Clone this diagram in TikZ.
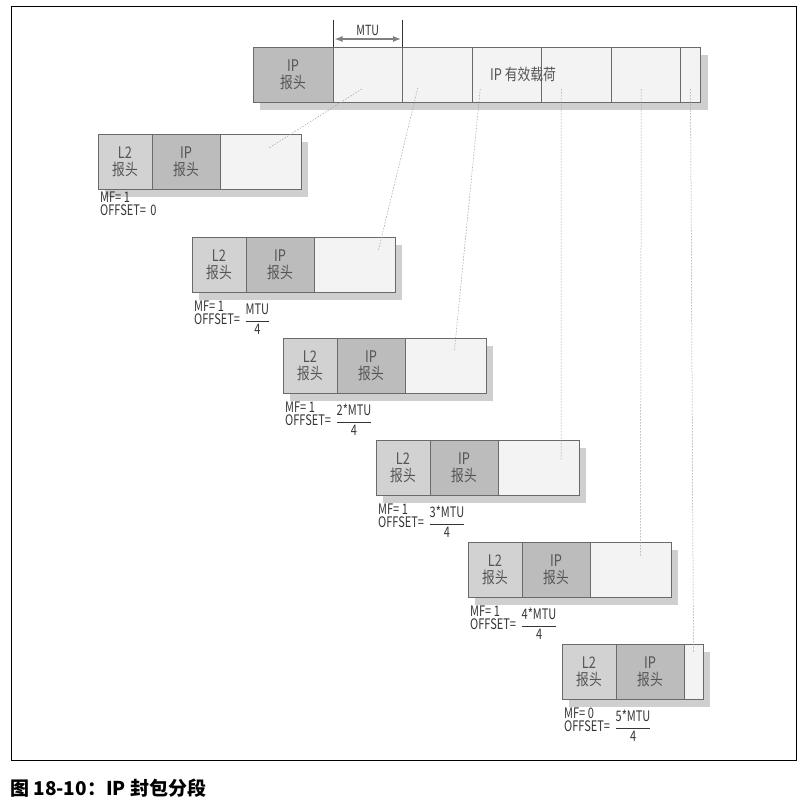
\documentclass[tikz,border=0pt]{standalone}
\usepackage{amsmath}
\usepackage{fontspec}
\setmainfont{Noto Sans CJK SC}
\newfontfamily\narrowfont{Noto Sans CJK SC}[FakeStretch=0.8]
\newfontfamily\condfont{Noto Sans CJK SC}[FakeStretch=0.76]
\usetikzlibrary{arrows.meta,positioning,shadows}
\definecolor{boxline}{HTML}{6A6A6A}
\definecolor{labelgray}{HTML}{555555}
\definecolor{flaggray}{HTML}{353535}
\definecolor{lfill}{HTML}{D2D2D2}
\definecolor{hfill}{HTML}{BCBCBC}
\definecolor{pfill}{HTML}{F3F3F3}
\definecolor{shadowgray}{HTML}{A0A0A0}
\newcommand{\mtupart}[1]{$\dfrac{\text{#1}}{\text{4}}$}

\tikzset{
  cell/.style={draw=boxline, line width=0.8pt, minimum height=55pt, inner sep=0pt,
    outer sep=0pt, align=center, text=labelgray, font=\narrowfont\fontsize{16}{17}\selectfont,
    drop shadow={shadow xshift=7pt, shadow yshift=-8pt, fill=shadowgray}},
  l2box/.style={cell, fill=lfill, minimum width=54pt},
  ipbox/.style={cell, fill=hfill, minimum width=68pt},
  loadbox/.style={cell, fill=pfill},
  flag/.style={anchor=base west, inner sep=0pt, text=flaggray, font=\condfont\fontsize{14.5}{15}\selectfont},
  guide/.style={gray!75, line width=0.5pt, dash pattern=on 1.5pt off 1.5pt},
  tick/.style={flaggray, line width=0.6pt},
  span/.style={{Latex[length=8pt,width=6pt]}-{Latex[length=8pt,width=6pt]}, gray, line width=1.2pt}
}

\begin{document}
\begin{tikzpicture}[x=1pt,y=-1pt]
\useasboundingbox (0,0) rectangle (807,804);

% frame and caption
\draw[black, line width=0.9pt] (11,6) rectangle (796,760);
\node[anchor=west, inner sep=0pt, font=\fontsize{19}{22}\selectfont\bfseries] (caption) at (10,788) {图 18-10：IP 封包分段};

% original packet
\node[cell, fill=hfill, minimum width=80pt, anchor=north west] (hd) at (253,47) {IP\\报头};
\node[loadbox, minimum width=69.5pt, right=0pt of hd] (s1) {};
\node[loadbox, minimum width=69.5pt, right=0pt of s1] (s2) {};
\node[loadbox, minimum width=69.5pt, right=0pt of s2] (s3) {};
\node[loadbox, minimum width=69.5pt, right=0pt of s3] (s4) {};
\node[loadbox, minimum width=69.5pt, right=0pt of s4] (s5) {};
\node[loadbox, minimum width=20pt, right=0pt of s5] (s6) {};
\node[inner sep=0pt, text=labelgray, font=\narrowfont\fontsize{16}{17}\selectfont] (payload) at (523,74) {IP 有效载荷};

% MTU marker
\coordinate (mtuL) at ([yshift=27pt]s1.north west);
\coordinate (mtuR) at ([yshift=27pt]s1.north east);
\draw[tick] (s1.north west) -- (mtuL);
\draw[tick] (s1.north east) -- (mtuR);
\draw[span, shorten <=1.5pt, shorten >=1.5pt] ([yshift=-19pt]mtuL) -- node[above=3pt, inner sep=0pt, text=flaggray, font=\condfont\fontsize{14}{15}\selectfont] (mtu) {MTU} ([yshift=-19pt]mtuR);

% fragments
\foreach \i/\x/\y/\w/\gap/\mf/\off in {
  1/98/134/81pt/13pt/1/0,
  2/192/237/81pt/19pt/1/{\mtupart{MTU}},
  3/283/338/81pt/19pt/1/{\mtupart{2*MTU}},
  4/376/440/81pt/19pt/1/{\mtupart{3*MTU}},
  5/468/542/81pt/19pt/1/{\mtupart{4*MTU}},
  6/562/644/19pt/19pt/0/{\mtupart{5*MTU}}}{
  \node[l2box, anchor=north west] (l\i) at (\x,\y) {L2\\报头};
  \node[ipbox, right=0pt of l\i] (h\i) {IP\\报头};
  \node[loadbox, minimum width=\w, right=0pt of h\i] (p\i) {};
  \node[flag] (mf\i) at ([xshift=2pt,yshift=-\gap]l\i.south west) {MF= \mf};
  \node[flag] (off\i) at ([yshift=-13.5pt]mf\i.base west) {OFFSET=};
  \node[flag] (val\i) at ([xshift=4pt]off\i.base east) {\off};
}

% where each piece goes
\foreach \i/\ax/\ay/\bx/\by in {1/-6pt/13pt/8.5pt/-14pt, 2/-19.5pt/14pt/24pt/-13pt,
  3/-26.5pt/13pt/9pt/-12pt, 4/-15pt/13pt/22.5pt/-20pt, 5/-4.5pt/13pt/10pt/-15pt, 6/0pt/13pt/0pt/-8pt}
  \draw[guide] ([xshift=\ax,yshift=\ay]s\i.south) -- ([xshift=\bx,yshift=\by]p\i.north);
\end{tikzpicture}
\end{document}
